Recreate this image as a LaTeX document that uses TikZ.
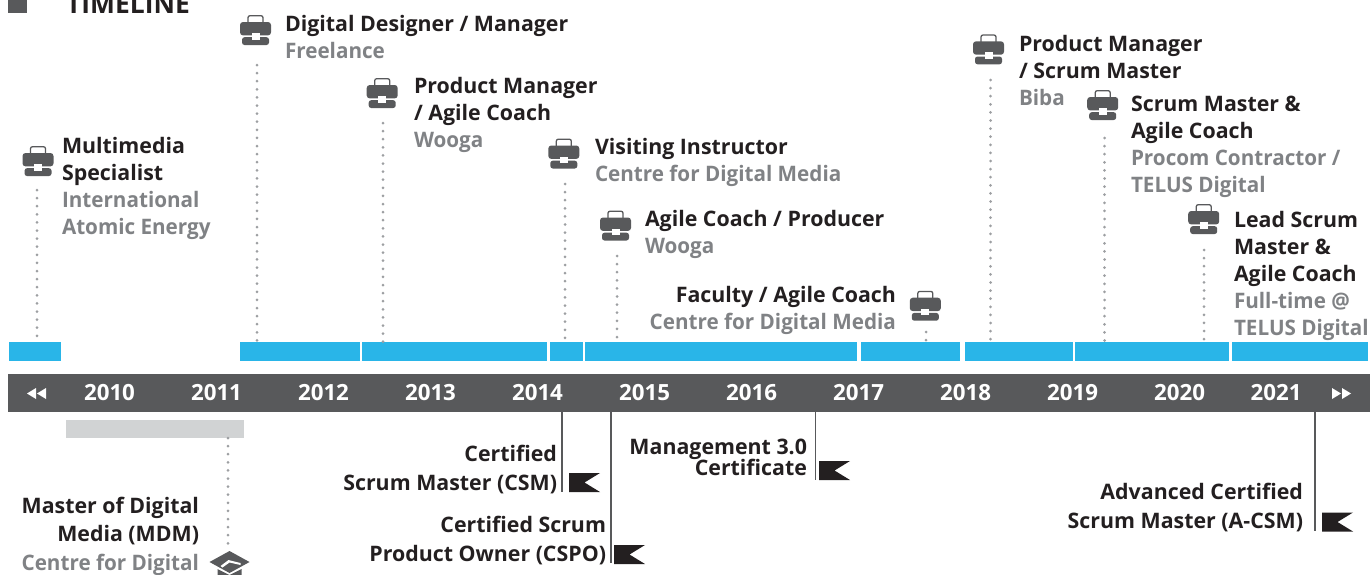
\documentclass[tikz,border=0pt]{standalone}
\usepackage{fontspec}
\setmainfont{Open Sans}
\newfontfamily\semifam{Open Sans}[BoldFeatures={FakeStretch=0.968}]
\definecolor{ink}{HTML}{231F20}
\definecolor{soft}{HTML}{808285}
\definecolor{slate}{HTML}{58595B}
\definecolor{sky}{HTML}{29B5E8}
\definecolor{pale}{HTML}{D1D3D4}
\definecolor{dots}{HTML}{9D9FA2}
\newcommand{\hd}[1]{\strut{\bfseries\color{ink}#1}}
\newcommand{\gy}[1]{\strut{\semifam\bfseries\color{soft}#1}}
\newcommand{\setleading}[1]{\fontsize{21.35}{#1}\selectfont\lineskiplimit=-100pt }
\tikzset{
 x=1pt,y=-1pt,
 txt/.style={inner sep=0pt,outer sep=0pt,font=\setleading{27}},
 wide/.style={font=\setleading{29}},
 tight/.style={font=\setleading{21}},
 lft/.style={txt,anchor=north west,align=left},
 rgt/.style={txt,anchor=north east,align=right},
 year/.style={inner sep=0pt,text=white,font=\fontsize{22.3}{26}\selectfont\bfseries},
 dotline/.style={draw=dots,line width=3pt,line cap=round,dash pattern=on 0pt off 8.1pt},
 rulestem/.style={draw=slate,line width=1.8pt},
 case/.pic={
  \draw[slate,line width=1.3pt,rounded corners=2pt] (-7.5,-7.5)--(-7.5,-14.3)--(7.5,-14.3)--(7.5,-7.5);
  \fill[slate,rounded corners=3pt] (-15.5,-8)--(15.5,-8)--(15.5,5.4)--(-15.5,5.4)--cycle;
  \fill[slate,rounded corners=2.5pt] (-13.5,7.2)--(13.5,7.2)--(13.5,15)--(-13.5,15)--cycle;
  \fill[white] (-4,3)rectangle(4,9.5);
 },
 flagmark/.pic={
  \fill[ink] (0,0)--(31,0)--(15.5,9.5)--(31,19)--(0,19)--cycle;
 },
 gradcap/.pic={
  \fill[slate] (0,-12)--(20,-1)--(0,10)--(-20,-1)--cycle;
  \fill[white] (-9,3)--(-1,-3)--(11,0)--(11,2)--(0,-0.5)--(-7,4.5)--cycle;
  \fill[slate] (-12,6)--(0,12)--(12,6)--(12,14)--(-12,14)--cycle;
 }
}
\newcommand{\barnode}[6][sky]{\node[fill=#1,inner sep=0pt,minimum width=#4pt-#3pt,minimum height=#6pt-#5pt,anchor=north west] (#2) at (#3,#5) {};}
\begin{document}
\begin{tikzpicture}
\useasboundingbox (0,0) rectangle (1370,574);
% heading
\fill[slate] (8,-4) rectangle (27,12.7);
\node[inner sep=0pt,anchor=base west,font=\fontsize{26.4}{30}\selectfont\bfseries,text=ink] (title) at (66,13) {TIMELINE};
% bars
\barnode{b1}{9}{61}{342}{361}
\barnode{b2}{240}{360}{342}{361}
\barnode{b3}{362}{547}{342}{361}
\barnode{b4}{550}{583}{342}{361}
\barnode{b5}{585}{857}{342}{361}
\barnode{b6}{861}{960}{342}{361}
\barnode{b7}{965}{1073}{342}{361}
\barnode{b8}{1075}{1229}{342}{361}
\barnode{b9}{1232}{1368}{342}{361}
\barnode[slate]{axis}{8}{1370}{374}{412}
\barnode[pale]{edu}{66}{244}{420}{438}
% years
\foreach \yy/\xx in {2010/109.5,2011/216.5,2012/323.5,2013/430.5,2014/537.5,2015/644.5,2016/751.5,2017/858.5,2018/965.5,2019/1072.5,2020/1179.5,2021/1276}
  \node[year] (y\yy) at (\xx,393) {\yy};
\fill[white] (27,393.5)--(36,388)--(36,399)--cycle (37,393.5)--(46,388)--(46,399)--cycle;
\fill[white] (1351,393.5)--(1342,388)--(1342,399)--cycle (1341,393.5)--(1332,388)--(1332,399)--cycle;
% icons and dotted connectors
\foreach \n/\xx/\yy/\dx/\top/\bb in {1/38/161/37/190/b1,2/255.5/30/257/65/b2,3/382.2/93/383/123/b3,4/563.8/153.5/565/184/b4,5/615.5/225.5/617/256/b5,6/925.3/305.7/926/332/b6,7/988.5/49.3/990.5/80/b7,8/1102.7/105/1104.5/138/b8,9/1203.7/219/1204/250/b8}{
  \pic at (\xx,\yy) {case};
  \coordinate (c\n) at (\dx,\top);
  \draw[dotline] (c\n) -- (c\n |- \bb.north);
}
% job labels
\node[lft] (j1) at (62,134.2) {\hd{Multimedia}\\\hd{Specialist}\\\gy{International}\\\gy{Atomic Energy}};
\node[lft] (j2) at (285,12.2) {\hd{Digital Designer / Manager}\\\gy{Freelance}};
\node[lft] (j3) at (414,74.2) {\hd{Product Manager}\\\hd{/ Agile Coach}\\\gy{Wooga}};
\node[lft] (j4) at (595,135.2) {\hd{Visiting Instructor}\\\gy{Centre for Digital Media}};
\node[lft] (j5) at (645,207.2) {\hd{Agile Coach / Producer}\\\gy{Wooga}};
\node[rgt] (j6) at (896,283.2) {\hd{Faculty / Agile Coach}\\\gy{Centre for Digital Media}};
\node[lft] (j7) at (1019,32.2) {\hd{Product Manager}\\\hd{/ Scrum Master}\\\gy{Biba}};
\node[lft] (j8) at (1131,92.2) {\hd{Scrum Master \&}\\\hd{Agile Coach}\\\gy{Procom Contractor /}\\\gy{TELUS Digital}};
\node[lft] (j9) at (1234,208.2) {\hd{Lead Scrum}\\\hd{Master \&}\\\hd{Agile Coach}\\\gy{Full-time @}\\\gy{TELUS Digital}};
% education
\node[rgt,font=\setleading{28.6}] (m1) at (199,493) {\hd{Master of Digital}\\\hd{Media (MDM)}\\\gy{Centre for Digital}};
\coordinate (g1) at (228,438);
\coordinate (g2) at (228,545);
\draw[dotline] (g1) -- (g2);
\pic at (229.5,563) {gradcap};
% certificates
\node[rgt,wide] (k1) at (557,440.7) {\hd{Certified}\\\hd{Scrum Master (CSM)}};
\node[rgt,wide] (k2) at (606,511.7) {\hd{Certified Scrum}\\\hd{Product Owner (CSPO)}};
\node[rgt,tight] (k3) at (807,439.3) {\hd{Management 3.0}\\\hd{Certificate}};
\node[rgt,wide] (k4) at (1303,478.7) {\hd{Advanced Certified}\\\hd{Scrum Master (A-CSM)}};
\foreach \n/\xx/\yy in {1/562/492,2/611/563,3/815.5/480,4/1315/531}{
  \coordinate (r\n) at (\xx,\yy);
  \draw[rulestem] (r\n |- axis.south) -- (r\n);
}
\pic at (569,473) {flagmark};
\pic at (614,545) {flagmark};
\pic at (819,461) {flagmark};
\pic at (1322,512.5) {flagmark};
\end{tikzpicture}
\end{document}
